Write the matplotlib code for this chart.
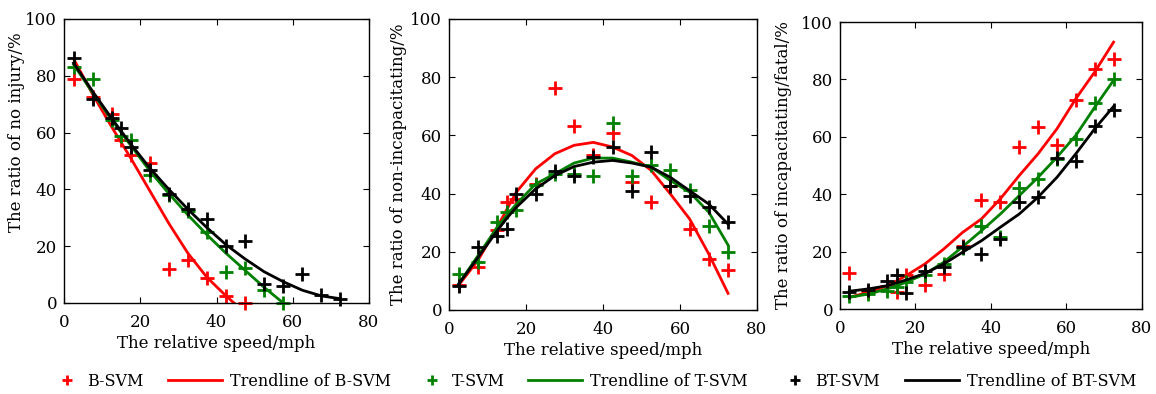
import matplotlib
matplotlib.use("Agg")
import matplotlib.pyplot as plt

plt.rcParams["font.family"] = ["DejaVu Serif"]
plt.rcParams["mathtext.fontset"] = "dejavuserif"

# speeds (mph) at which the ratios were evaluated
speed = [2.5, 7.5, 12.5, 15, 17.5, 22.5, 27.5, 32.5, 37.5, 42.5, 47.5, 52.5, 57.5, 62.5, 67.5, 72.5]

# --- no injury ---
noinj_b = [79, 72.5, 66.5, 57.3, 52, 49.3, 11.8, 15, 8.9, 2.4, 0]
noinj_t = [83.2, 79, 64.4, 58.8, 57.3, 45, 38, 32.4, 25, 10.9, 12.3, 4.5, 0]
noinj_bt = [86.1, 72, 65, 61.5, 55, 47, 38.5, 33, 29.5, 20, 22, 6.8, 6, 10.1, 2.7, 1.5]
noinj_b_trend = [86, 73.5, 62, 56.5, 51, 39.5, 28, 17.5, 9, 2.5, -3.5]
noinj_t_trend = [84, 74, 64.5, 60, 55.5, 46.5, 38.5, 31, 24, 17.5, 11.5, 5.5, 0]
noinj_bt_trend = [84.5, 74.5, 65, 60.5, 56, 47.5, 40, 33, 26.5, 20.5, 15.5, 11, 7.5, 4.5, 2.5, 1.5]

# --- non-incapacitating ---
nonin_b = [8.6, 14.9, 27.5, 37, 38, 43.3, 76.4, 63.1, 53.1, 60.9, 44.1, 37, 42.5, 28, 17.5, 13.8]
nonin_t = [12.5, 16.6, 30.1, 33.6, 34.3, 42.8, 46.8, 46.8, 46.2, 64.3, 46.2, 49.9, 48.2, 41.3, 29, 20]
nonin_bt = [8.3, 21.5, 25.5, 28, 40, 39.9, 47.9, 46, 52.5, 56, 41, 54.3, 42.5, 39.3, 35.3, 30.1]
nonin_b_trend = [8.5, 17, 28.4, 34.5, 40.5, 48.5, 53.7, 56.6, 57.6, 56, 53.1, 48, 39.9, 31.3, 19.2, 5.7]
nonin_t_trend = [8.9, 18.6, 28.4, 32.5, 36.4, 43.3, 46.8, 50.5, 52.2, 52.2, 50.8, 49.1, 44.5, 40.5, 33.6, 22.3]
nonin_bt_trend = [8.9, 18, 27.2, 31.5, 35.3, 41.6, 46.2, 49.3, 50.8, 51.4, 50.5, 49.1, 45.6, 41, 36.4, 29.5]

# --- incapacitating / fatal ---
incap_b = [12.7, 5.8, 8.1, 6, 11.8, 8.5, 12.1, 22.1, 38, 37.2, 56.4, 63.4, 57.3, 72.9, 83.7, 87]
incap_t = [4.5, 5.1, 6.4, 7.8, 9.5, 12, 15.6, 21.3, 28.8, 25, 42.2, 45.3, 52.3, 59.3, 71.7, 80.2]
incap_bt = [6.0, 6.6, 9.9, 11.8, 5.5, 13.3, 14.5, 21.7, 19, 24.4, 37.2, 39, 52.6, 51.5, 63.6, 69.2]
incap_b_trend = [4.1, 5.8, 8.1, 9.8, 11.6, 15.7, 20.9, 26.7, 31.4, 38.4, 46.5, 54.1, 62.8, 73.3, 82.6, 93]
incap_t_trend = [4.1, 5.2, 7, 8.1, 9.3, 12.2, 16.3, 21.7, 27.3, 33.1, 39.5, 45.9, 52.9, 60.5, 70.3, 79.7]
incap_bt_trend = [6.2, 7, 8.1, 9.1, 10.1, 12.4, 15.7, 19.8, 23.8, 28.5, 33.1, 39, 45.9, 54.1, 62.8, 70.6]

ylabels = ["The ratio of no injury/%",
           "The ratio of non-incapacitating/%",
           "The ratio of incapacitating/fatal/%"]
xlabel = "The relative speed/mph"

panels = [
    (noinj_b, noinj_t, noinj_bt, noinj_b_trend, noinj_t_trend, noinj_bt_trend),
    (nonin_b, nonin_t, nonin_bt, nonin_b_trend, nonin_t_trend, nonin_bt_trend),
    (incap_b, incap_t, incap_bt, incap_b_trend, incap_t_trend, incap_bt_trend),
]
# axes rectangles in figure fractions
rects = [[0.0554, 0.2310, 0.2638, 0.7208],
         [0.3884, 0.2132, 0.2664, 0.7386],
         [0.7266, 0.2157, 0.2612, 0.7284]]
# ylabel anchor (axes fraction) -- first panel's label sits high in the original
ylab_pos = [(-0.128, 0.60), (-0.136, 0.5), (-0.159, 0.5)]

colors = ["#ff0000", "#008000", "#000000"]
names = ["B-SVM", "T-SVM", "BT-SVM"]

W, H = 1156, 394
fig = plt.figure(figsize=(W / 100, H / 100), dpi=100)

handles = []
for rect, ylab, lp, data in zip(rects, ylabels, ylab_pos, panels):
    ax = fig.add_axes(rect)
    pts, trends = data[:3], data[3:]
    hs = []
    for c, name, p, t in zip(colors, names, pts, trends):
        hp, = ax.plot(speed[:len(p)], p, linestyle="none", marker="+", ms=10, mew=2,
                      color=c, label=name, clip_on=False)
        ht, = ax.plot(speed[:len(t)], t, color=c, lw=2, label="Trendline of " + name)
        hs += [hp, ht]
    handles = hs
    ax.set_xlim(0, 80)
    ax.set_ylim(0, 100)
    ax.set_xticks([0, 20, 40, 60, 80])
    ax.set_yticks([0, 20, 40, 60, 80, 100])
    ax.tick_params(direction="in", top=True, right=True, length=4, width=0.8,
                   labelsize=12)
    ax.tick_params(axis="x", pad=8)
    ax.tick_params(axis="y", pad=5)
    for s in ax.spines.values():
        s.set_linewidth(1)
    ax.set_xlabel(xlabel, fontsize=12, labelpad=3)
    ax.set_ylabel(ylab, fontsize=12)
    ax.yaxis.set_label_coords(*lp)

# legend entries placed one by one so point handles stay narrow
leg_x = [59, 168, 424, 528, 787, 905]
leg_y = 1 - 381 / H
for i, (h, x) in enumerate(zip(handles, leg_x)):
    is_pt = (i % 2 == 0)
    leg = fig.legend(handles=[h], loc="center left", bbox_to_anchor=(x / W, leg_y),
                     frameon=False, fontsize=11.5, borderpad=0, borderaxespad=0,
                     handlelength=1.0 if is_pt else 3.4,
                     handletextpad=0.75 if is_pt else 0.5,
                     numpoints=1, markerscale=0.65)

fig.savefig("out.png", dpi=100)
